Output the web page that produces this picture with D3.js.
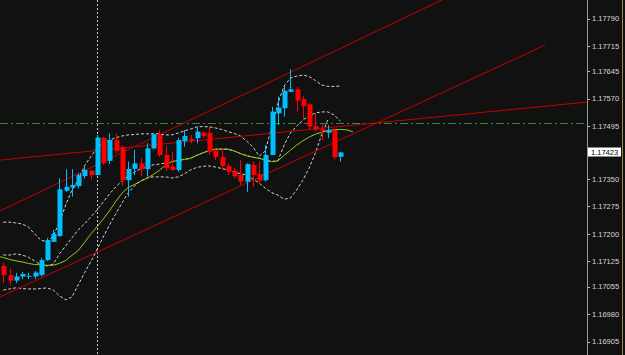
<!DOCTYPE html>
<html>
<head>
<meta charset="utf-8">
<script src="https://cdn.jsdelivr.net/npm/d3@7"></script>
<style>
  body { margin: 0; background: #111111; }
  svg { display: block; }
  .lbl { font-family: "Liberation Sans", Arial, sans-serif; font-size: 7.5px; fill: #d8d8d8; }
</style>
</head>
<body>
<div id="chart"></div>
<script>
// candles, oldest first
var opens  = [1.17112,1.17087,1.17072,1.17083,1.17083,1.17083,1.17087,1.17128,1.17178,1.17194,1.17318,1.17327,1.17331,1.17358,1.17373,1.17361,1.17463,1.17400,1.17457,1.17437,1.17347,1.17378,1.17393,1.17377,1.17434,1.17471,1.17416,1.17384,1.17375,1.17454,1.17460,1.17462,1.17477,1.17477,1.17428,1.17411,1.17386,1.17373,1.17361,1.17343,1.17389,1.17364,1.17347,1.17416,1.17530,1.17544,1.17589,1.17596,1.17569,1.17555,1.17495,1.17487,1.17477,1.17484,1.17411];
var highs  = [1.17121,1.17104,1.17093,1.17096,1.17093,1.17098,1.17134,1.17189,1.17211,1.17352,1.17377,1.17377,1.17366,1.17384,1.17375,1.17471,1.17466,1.17475,1.17474,1.17442,1.17398,1.17430,1.17408,1.17448,1.17475,1.17484,1.17441,1.17425,1.17463,1.17484,1.17471,1.17494,1.17481,1.17494,1.17434,1.17434,1.17393,1.17380,1.17402,1.17393,1.17398,1.17398,1.17443,1.17548,1.17576,1.17605,1.17651,1.17603,1.17576,1.17558,1.17530,1.17503,1.17498,1.17489,1.17425];
var lows   = [1.17065,1.17060,1.17065,1.17076,1.17076,1.17076,1.17083,1.17126,1.17177,1.17192,1.17315,1.17302,1.17325,1.17352,1.17349,1.17360,1.17389,1.17391,1.17421,1.17331,1.17302,1.17361,1.17358,1.17357,1.17432,1.17411,1.17372,1.17373,1.17370,1.17439,1.17448,1.17448,1.17463,1.17416,1.17402,1.17375,1.17361,1.17352,1.17334,1.17315,1.17329,1.17338,1.17343,1.17416,1.17498,1.17521,1.17588,1.17535,1.17517,1.17484,1.17480,1.17457,1.17462,1.17404,1.17398];
var closes = [1.17087,1.17072,1.17083,1.17090,1.17085,1.17094,1.17128,1.17183,1.17200,1.17322,1.17329,1.17334,1.17361,1.17375,1.17361,1.17464,1.17394,1.17457,1.17427,1.17347,1.17378,1.17393,1.17377,1.17434,1.17473,1.17416,1.17380,1.17375,1.17457,1.17468,1.17455,1.17480,1.17468,1.17425,1.17410,1.17386,1.17370,1.17358,1.17343,1.17391,1.17361,1.17346,1.17416,1.17535,1.17546,1.17592,1.17596,1.17565,1.17550,1.17494,1.17486,1.17482,1.17484,1.17410,1.17423];

// moving average (starts one bar before the first candle)
var maStart = -1;
var maValues = [1.17139,1.17135,1.17130,1.17126,1.17123,1.17119,1.17116,1.17115,1.17114,1.17114,1.17119,1.17127,1.17141,1.17154,1.17176,1.17199,1.17219,1.17240,1.17263,1.17288,1.17311,1.17327,1.17335,1.17344,1.17352,1.17362,1.17374,1.17388,1.17398,1.17401,1.17404,1.17407,1.17415,1.17422,1.17428,1.17432,1.17432,1.17432,1.17427,1.17420,1.17414,1.17410,1.17407,1.17402,1.17398,1.17400,1.17415,1.17429,1.17443,1.17455,1.17465,1.17473,1.17478,1.17483,1.17485,1.17486,1.17485,1.17480];

// dashed bands
var bandUpper = [1.17232,1.17232,1.17230,1.17227,1.17219,1.17200,1.17183,1.17178,1.17194,1.17232,1.17279,1.17320,1.17347,1.17386,1.17411,1.17435,1.17449,1.17457,1.17463,1.17468,1.17471,1.17472,1.17474,1.17474,1.17474,1.17474,1.17471,1.17471,1.17476,1.17482,1.17487,1.17493,1.17494,1.17493,1.17490,1.17486,1.17480,1.17475,1.17468,1.17454,1.17438,1.17413,1.17427,1.17493,1.17558,1.17605,1.17627,1.17632,1.17635,1.17631,1.17620,1.17608,1.17604,1.17604,1.17605];
var bandMiddle = [1.17142,1.17142,1.17145,1.17142,1.17136,1.17126,1.17115,1.17112,1.17117,1.17145,1.17167,1.17189,1.17211,1.17227,1.17246,1.17265,1.17287,1.17309,1.17328,1.17345,1.17358,1.17369,1.17378,1.17383,1.17389,1.17391,1.17394,1.17398,1.17401,1.17404,1.17407,1.17415,1.17422,1.17428,1.17432,1.17432,1.17432,1.17427,1.17420,1.17414,1.17410,1.17407,1.17402,1.17398,1.17400,1.17443,1.17476,1.17495,1.17512,1.17523,1.17531,1.17534,1.17534,1.17526,1.17509];
var bandLower = [1.17046,1.17049,1.17052,1.17050,1.17049,1.17049,1.17050,1.17052,1.17046,1.17030,1.17019,1.17027,1.17060,1.17093,1.17123,1.17156,1.17191,1.17224,1.17254,1.17284,1.17312,1.17331,1.17345,1.17353,1.17356,1.17356,1.17356,1.17353,1.17356,1.17364,1.17375,1.17382,1.17385,1.17386,1.17383,1.17379,1.17375,1.17369,1.17365,1.17361,1.17350,1.17339,1.17325,1.17313,1.17306,1.17295,1.17298,1.17320,1.17347,1.17380,1.17421,1.17471,1.17512];

// trend lines: [bar index, price] pairs
var trendLines = [
  [[-0.5, 1.17263], [70.3, 1.17841]],
  [[-0.5, 1.17402], [93.5, 1.17561]],
  [[-0.5, 1.17027], [86.8, 1.17717]]
];
var hLinePrice = 1.17503;
var vLineBar = 15;
var lastPrice = 1.17423;

var priceTicks = [1.17790,1.17715,1.17645,1.17570,1.17495,1.17350,1.17275,1.17200,1.17125,1.17055,1.16980,1.16905];

var width = 625, height = 355;
var plotRight = 587;

var svg = d3.select("#chart").append("svg")
    .attr("width", width)
    .attr("height", height);

svg.append("rect").attr("width", width).attr("height", height).attr("fill", "#111111");

var x = d3.scaleLinear().domain([0, 54]).range([3.3, 340.3]);
var y = d3.scaleLinear().domain([1.16905, 1.17790]).range([341.5, 18.5]);

svg.append("clipPath").attr("id", "plot-clip")
  .append("rect").attr("x", 0).attr("y", 0).attr("width", plotRight).attr("height", height);

var g = svg.append("g").attr("clip-path", "url(#plot-clip)");

// vertical dotted line
g.append("line")
    .attr("x1", Math.round(x(vLineBar)) + 0.5).attr("x2", Math.round(x(vLineBar)) + 0.5)
    .attr("y1", 0).attr("y2", height)
    .attr("stroke", "#c8c8c8").attr("stroke-width", 1)
    .attr("stroke-dasharray", "2,2");

// horizontal dash-dot line
g.append("line")
    .attr("x1", 0).attr("x2", plotRight)
    .attr("y1", Math.round(y(hLinePrice)) + 0.5).attr("y2", Math.round(y(hLinePrice)) + 0.5)
    .attr("stroke", "#2f8f2f").attr("stroke-width", 1)
    .attr("stroke-dasharray", "8,3,2,3");

// bands
var bandLine = d3.line()
    .x(function(d, i) { return x(i); })
    .y(function(d) { return y(d); });

[bandUpper, bandMiddle, bandLower].forEach(function(arr) {
  g.append("path")
    .datum(arr)
    .attr("d", bandLine)
    .attr("fill", "none")
    .attr("stroke", "#d0d0d0")
    .attr("stroke-width", 1)
    .attr("stroke-dasharray", "3,2");
});

// moving average
var maLine = d3.line()
    .x(function(d, i) { return x(i + maStart); })
    .y(function(d) { return y(d); });

g.append("path")
    .datum(maValues)
    .attr("d", maLine)
    .attr("fill", "none")
    .attr("stroke", "#8fcc22")
    .attr("stroke-width", 1);

// trend lines
g.selectAll("line.trend").data(trendLines).enter().append("line")
    .attr("class", "trend")
    .attr("x1", function(d) { return x(d[0][0]); })
    .attr("y1", function(d) { return y(d[0][1]); })
    .attr("x2", function(d) { return x(d[1][0]); })
    .attr("y2", function(d) { return y(d[1][1]); })
    .attr("stroke", "#c40000")
    .attr("stroke-width", 1);

// candles
var candles = opens.map(function(o, i) {
  return { i: i, o: o, h: highs[i], l: lows[i], c: closes[i] };
});

var cg = g.selectAll("g.candle").data(candles).enter().append("g").attr("class", "candle");

function colorOf(d) { return d.c >= d.o ? "#00bfff" : "#ff0000"; }

cg.append("line")
    .attr("x1", function(d) { return Math.round(x(d.i)) + 0.5; })
    .attr("x2", function(d) { return Math.round(x(d.i)) + 0.5; })
    .attr("y1", function(d) { return y(d.h); })
    .attr("y2", function(d) { return y(d.l); })
    .attr("stroke", colorOf)
    .attr("stroke-width", 1);

cg.append("rect")
    .attr("x", function(d) { return Math.round(x(d.i)) - 1.5; })
    .attr("width", 5)
    .attr("y", function(d) { return y(Math.max(d.o, d.c)); })
    .attr("height", function(d) { return Math.max(1, Math.abs(y(d.o) - y(d.c))); })
    .attr("fill", colorOf);

// price axis
svg.append("line")
    .attr("x1", plotRight + 0.5).attr("x2", plotRight + 0.5)
    .attr("y1", 0).attr("y2", height)
    .attr("stroke", "#9a9a9a");

svg.append("line")
    .attr("x1", 622.5).attr("x2", 622.5)
    .attr("y1", 0).attr("y2", height)
    .attr("stroke", "#a08850");

var ticks = svg.selectAll("g.tick").data(priceTicks).enter().append("g").attr("class", "tick");
ticks.append("line")
    .attr("x1", plotRight + 1).attr("x2", plotRight + 3)
    .attr("y1", function(d) { return Math.round(y(d)) + 0.5; })
    .attr("y2", function(d) { return Math.round(y(d)) + 0.5; })
    .attr("stroke", "#bbbbbb");
ticks.append("text")
    .attr("class", "lbl")
    .attr("x", 592)
    .attr("y", function(d) { return y(d) + 2.7; })
    .text(function(d) { return d.toFixed(5); });

// last price box
svg.append("rect")
    .attr("x", 588).attr("y", Math.round(y(lastPrice)) - 4.5)
    .attr("width", 33).attr("height", 9)
    .attr("fill", "#ffffff");
svg.append("text")
    .attr("class", "lbl")
    .attr("x", 591)
    .attr("y", y(lastPrice) + 2.7)
    .style("fill", "#000000")
    .text(lastPrice.toFixed(5));
</script>
</body>
</html>
